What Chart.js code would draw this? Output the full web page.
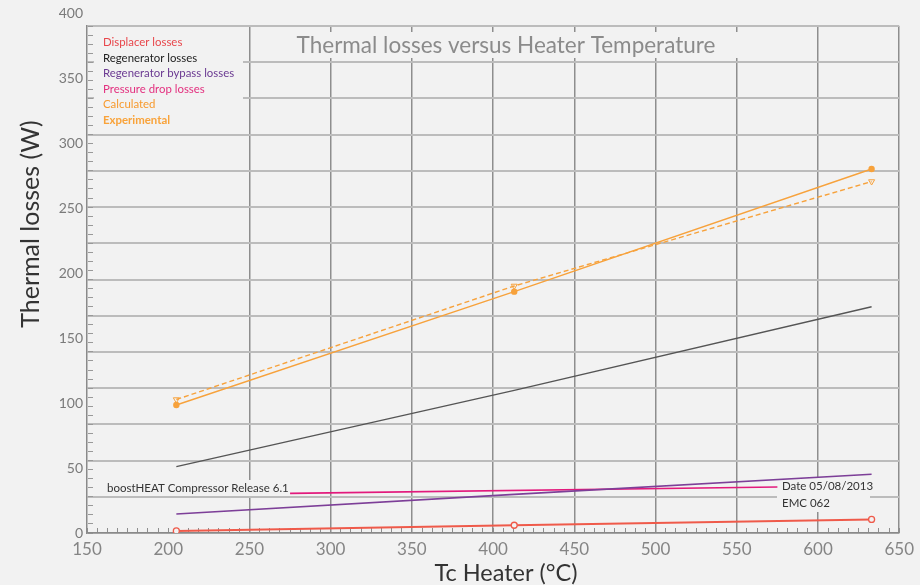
<!DOCTYPE html>
<html>
<head>
  <script src="https://cdn.jsdelivr.net/npm/chart.js@4.4.1/dist/chart.umd.min.js"></script>
<style>
  body { margin: 0; background: #f2f2f2; }
</style>
</head>
<body>
  <canvas id="myChart" width="920" height="585"></canvas>
  <script>
    // values
    var tcHeater     = [205, 413, 633];
    var displacer    = [1.6, 6.1, 10.7];
    var regenerator  = [52.3, 112.5, 178.5];
    var bypass       = [15.0, 30.5, 46.3];
    var pressureTc   = [275, 575];
    var pressureDrop = [31.3, 36.3];
    var calculated   = [101.0, 190.4, 287.2];
    var experimental = [105.3, 194.9, 277.3];

    var xTicks = [150, 200, 250, 300, 350, 400, 450, 500, 550, 600, 650];
    var yTicks = [0, 50, 100, 150, 200, 250, 300, 350, 400];

    var chartTitle = 'Thermal losses versus Heater Temperature';
    var yTitle = 'Thermal losses (W)';
    var xTitle = 'Tc Heater (°C)';
    var noteLeft = 'boostHEAT Compressor Release 6.1';
    var noteRight = ['Date 05/08/2013', 'EMC 062'];

    var BG = '#f2f2f2';
    var FONT = 'Lato, "Open Sans", sans-serif';

    function pts(xs, ys) {
      return xs.map(function (x, i) { return { x: x, y: ys[i] }; });
    }
    function steps(min, max, n) {
      var out = [];
      for (var i = 0; i <= n; i++) out.push({ value: min + (max - min) * i / n });
      return out;
    }

    // cover boxes, in-plot title, legend, notes and axis titles
    var overlay = {
      id: 'overlay',
      beforeDatasetsDraw: function (chart) {
        var ctx = chart.ctx, a = chart.chartArea;
        ctx.save();
        ctx.fillStyle = BG;
        ctx.fillRect(a.left + 7, a.top + 2, 149, 103);
        ctx.fillRect(a.left + 166, a.top + 6, 563, 26);
        ctx.fillRect(a.left + 16, 480, 186, 16);
        ctx.fillRect(a.left + 690, 477, 93, 35);

        ctx.textBaseline = 'middle';
        ctx.textAlign = 'center';
        ctx.fillStyle = '#8b8b8b';
        ctx.font = '22.5px ' + FONT;
        ctx.fillText(chartTitle, a.left + 419, a.top + 20);

        ctx.textAlign = 'left';
        chart.data.datasets.forEach(function (ds, i) {
          ctx.fillStyle = ds.legendColor;
          ctx.font = (ds.legendBold ? 'bold ' : '') + '11.4px ' + FONT;
          ctx.fillText(ds.label, a.left + 16, a.top + 16.5 + i * 15.5);
        });

        ctx.fillStyle = '#333';
        ctx.font = '11.5px ' + FONT;
        ctx.fillText(noteLeft, a.left + 20, 488);
        ctx.fillText(noteRight[0], a.left + 695, 486);
        ctx.fillText(noteRight[1], a.left + 695, 503);

        ctx.textAlign = 'center';
        ctx.font = '23.5px ' + FONT;
        ctx.fillText(xTitle, a.left + 419, 573);

        ctx.translate(31, 224);
        ctx.rotate(-Math.PI / 2);
        ctx.font = '25px ' + FONT;
        ctx.fillText(yTitle, 0, 0);
        ctx.restore();
      }
    };

    function draw() {
      Chart.defaults.font.family = FONT;
      var ctx = document.getElementById('myChart');
      new Chart(ctx, {
        type: 'line',
        data: {
          datasets: [
            { label: 'Displacer losses', data: pts(tcHeater, displacer), borderColor: '#ef5a4a',
              backgroundColor: BG, borderWidth: 2, pointRadius: 3, pointBorderWidth: 1.3,
              legendColor: '#e8464b' },
            { label: 'Regenerator losses', data: pts(tcHeater, regenerator), borderColor: '#555555',
              borderWidth: 1.3, pointRadius: 0, legendColor: '#222222' },
            { label: 'Regenerator bypass losses', data: pts(tcHeater, bypass), borderColor: '#7d3f98',
              borderWidth: 1.6, pointRadius: 0, legendColor: '#6b3a92' },
            { label: 'Pressure drop losses', data: pts(pressureTc, pressureDrop), borderColor: '#e2197c',
              borderWidth: 1.6, pointRadius: 0, legendColor: '#e3307f' },
            { label: 'Calculated', data: pts(tcHeater, calculated), borderColor: '#f7a23c',
              backgroundColor: '#f7a23c', borderWidth: 1.4, pointRadius: 2.5, legendColor: '#f79a2e' },
            { label: 'Experimental', data: pts(tcHeater, experimental), borderColor: '#f7a23c',
              borderDash: [5, 3], borderWidth: 1.4, pointStyle: 'triangle', rotation: 180,
              pointRadius: 3.5, pointBorderWidth: 1, backgroundColor: 'rgba(0,0,0,0)',
              legendColor: '#f9a33a', legendBold: true }
          ]
        },
        options: {
          responsive: false,
          animation: false,
          devicePixelRatio: 1,
          layout: { padding: { left: 0, top: 26, right: 19, bottom: 0 } },
          plugins: { legend: { display: false }, tooltip: { enabled: false } },
          elements: { line: { tension: 0 } },
          scales: {
            x: {
              type: 'linear', position: 'bottom', min: 150, max: 650, weight: 1,
              afterFit: function (s) { s.height = 52; },
              afterBuildTicks: function (s) { s.ticks = xTicks.map(function (v) { return { value: v }; }); },
              grid: {
                color: function (c) {
                  return (c.tick && c.tick.value <= 200) ? 'rgba(0,0,0,0)' : '#8e8e8e';
                },
                lineWidth: 1.5, drawTicks: false
              },
              border: { color: '#8a8a8a', width: 1.5 },
              ticks: { color: '#858585', font: { size: 17 }, padding: 6, maxRotation: 0, autoSkip: false }
            },
            // minor ticks along the bottom, drawn inside the plot
            xm: {
              type: 'linear', position: { y: 4.3 }, min: 150, max: 650,
              afterBuildTicks: function (s) { s.ticks = steps(150, 650, 80); },
              ticks: { display: false },
              grid: { drawOnChartArea: false, tickLength: 5, color: '#8e8e8e', lineWidth: 1 },
              border: { display: false }
            },
            y: {
              type: 'linear', position: 'left', min: 0, max: 400, weight: 0,
              afterFit: function (s) { s.width = 0; },
              afterBuildTicks: function (s) { s.ticks = steps(0, 400, 14); },
              ticks: { display: false },
              grid: { color: '#bcbcbc', lineWidth: 2, drawTicks: false },
              border: { color: '#8a8a8a', width: 1.5 }
            },
            // minor ticks along the left side, drawn inside the plot
            ym: {
              type: 'linear', position: { x: 153.4 }, min: 0, max: 400,
              afterBuildTicks: function (s) { s.ticks = steps(0, 400, 56); },
              ticks: { display: false },
              grid: { drawOnChartArea: false, tickLength: 5, color: '#999999', lineWidth: 1 },
              border: { display: false }
            },
            yl: {
              type: 'linear', position: 'left', min: 0, max: 390, weight: 2,
              afterFit: function (s) { s.width = 87; },
              afterBuildTicks: function (s) { s.ticks = yTicks.map(function (v) { return { value: v }; }); },
              grid: { display: false, drawTicks: false },
              border: { display: false },
              ticks: { color: '#7a7a7a', font: { size: 14 }, padding: 4, autoSkip: false }
            }
          }
        },
        plugins: [overlay]
      });
    }

    if (document.fonts && document.fonts.load) {
      document.fonts.load('16px Lato').then(draw, draw);
    } else {
      draw();
    }
  </script>
</body>
</html>
